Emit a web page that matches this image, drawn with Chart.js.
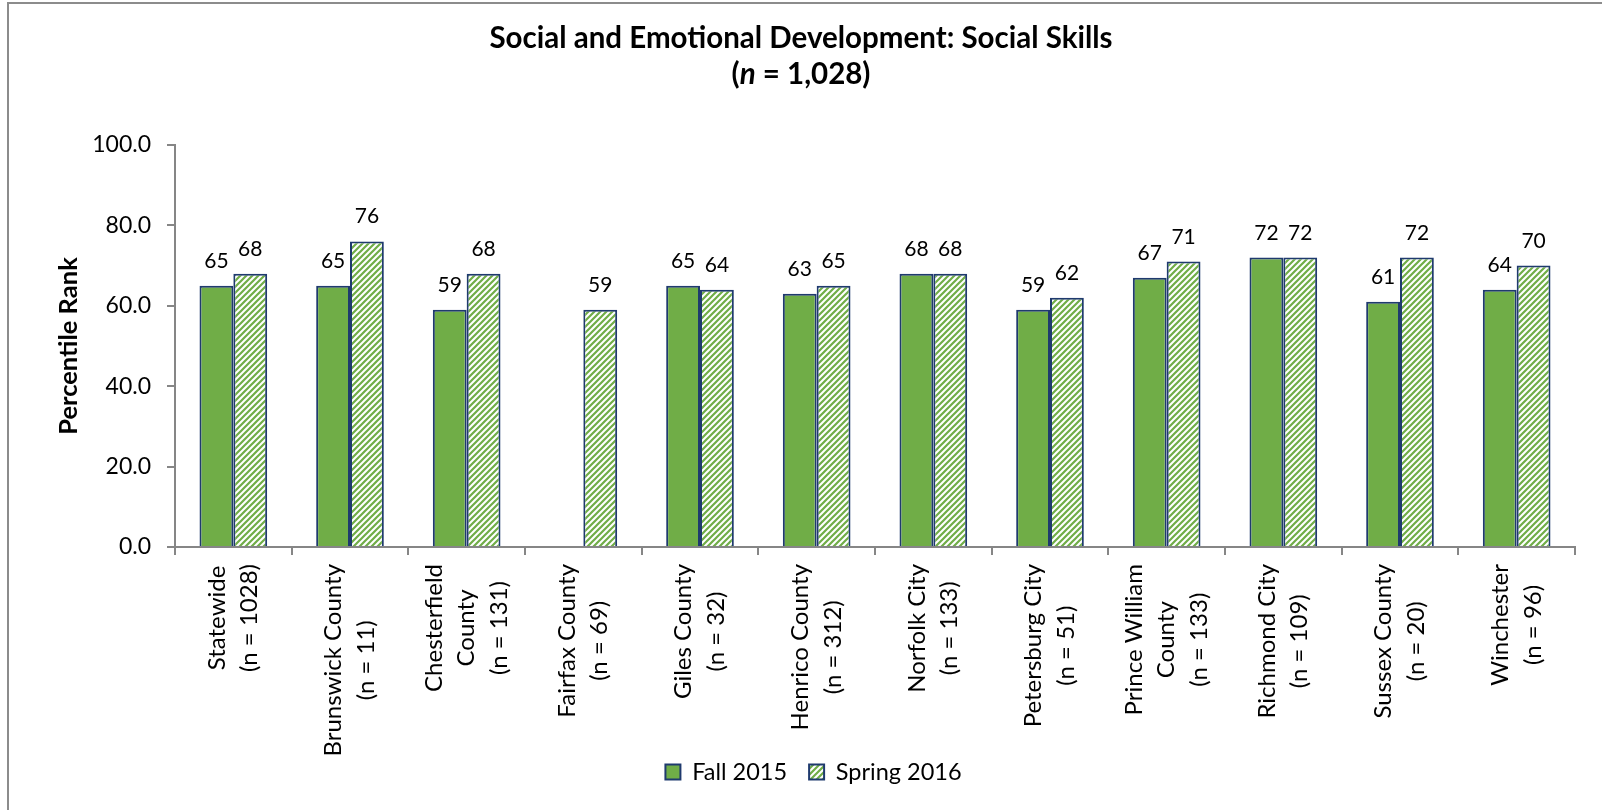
<!DOCTYPE html>
<html>
<head>
<meta charset="utf-8">
<title>Social Skills</title>
<script src="https://cdn.jsdelivr.net/npm/chart.js@4.4.1/dist/chart.umd.min.js"></script>
<style>
    html, body { margin: 0; padding: 0; background: #fff; overflow: hidden; }
    #wrap { position: relative; width: 1602px; height: 810px; overflow: hidden; }
    #frame { position: absolute; left: 7px; top: 2px; width: 1620px; height: 830px;
             border-left: 2px solid #8c8c8c; border-top: 2px solid #8c8c8c; pointer-events: none; }
</style>
</head>
<body>
<div id="wrap">
    <canvas id="bar-chart" width="1602" height="810"></canvas>
    <div id="frame"></div>
</div>
<script>
        var FONT = 'Lato, "Open Sans", sans-serif';

        var categories = [
            ['Statewide', '(n = 1028)'],
            ['Brunswick County', '(n = 11)'],
            ['Chesterfield', 'County', '(n = 131)'],
            ['Fairfax County', '(n = 69)'],
            ['Giles County', '(n = 32)'],
            ['Henrico County', '(n = 312)'],
            ['Norfolk City', '(n = 133)'],
            ['Petersburg City', '(n = 51)'],
            ['Prince William', 'County', '(n = 133)'],
            ['Richmond City', '(n = 109)'],
            ['Sussex County', '(n = 20)'],
            ['Winchester', '(n = 96)']
        ];
        var fall2015 = [65, 65, 59, null, 65, 63, 68, 59, 67, 72, 61, 64];
        var spring2016 = [68, 76, 68, 59, 64, 65, 68, 62, 71, 72, 72, 70];
        var seriesNames = ['Fall 2015', 'Spring 2016'];
        var yMin = 0, yMax = 100, yStep = 20;

        var green = '#70AD47';
        var navy = '#1F3A6E';

        // diagonal green/white hatch for the spring bars
        function makeHatch() {
            var s = 6;
            var c = document.createElement('canvas');
            c.width = s; c.height = s;
            var g = c.getContext('2d');
            g.fillStyle = '#ffffff';
            g.fillRect(0, 0, s, s);
            g.strokeStyle = green;
            g.lineWidth = 2.2;
            g.beginPath();
            g.moveTo(0, s); g.lineTo(s, 0);
            g.moveTo(-s / 2, s / 2); g.lineTo(s / 2, -s / 2);
            g.moveTo(s / 2, s * 1.5); g.lineTo(s * 1.5, s / 2);
            g.stroke();
            return g.createPattern(c, 'repeat');
        }

        var ctx = document.getElementById('bar-chart').getContext('2d');

        // two-line heading, second line has an italic n
        var headingPlugin = {
            id: 'heading',
            afterDraw: function (chart) {
                var c = chart.ctx, cx = chart.width / 2;
                c.save();
                c.fillStyle = '#000';
                c.textBaseline = 'alphabetic';
                c.textAlign = 'center';
                c.font = 'bold 29.5px ' + FONT;
                c.fillText('Social and Emotional Development: Social Skills', cx, 48);

                var parts = [['(', 'bold 29.5px '], ['n', 'italic bold 29.5px '], [' = 1,028)', 'bold 29.5px ']];
                var total = 0;
                parts.forEach(function (p) { c.font = p[1] + FONT; total += c.measureText(p[0]).width; });
                var x = cx - total / 2;
                c.textAlign = 'left';
                parts.forEach(function (p) {
                    c.font = p[1] + FONT;
                    c.fillText(p[0], x, 84);
                    x += c.measureText(p[0]).width;
                });
                c.restore();
            }
        };

        // rotated multi-line category names: the block hangs from the axis,
        // each line centred on the longest one
        var categoryLabels = {
            id: 'categoryLabels',
            afterDraw: function (chart) {
                var xs = chart.scales.x, c = chart.ctx, lh = 32.5;
                c.save();
                c.font = '24px ' + FONT;
                c.fillStyle = '#000';
                c.textAlign = 'center';
                c.textBaseline = 'middle';
                chart.data.labels.forEach(function (lines, i) {
                    var cx = xs.getPixelForTick(i);
                    var longest = Math.max.apply(null, lines.map(function (t) { return c.measureText(t).width; }));
                    var cy = xs.top + 17 + longest / 2;
                    lines.forEach(function (t, k) {
                        c.save();
                        c.translate(cx + (k - (lines.length - 1) / 2) * lh, cy);
                        c.rotate(-Math.PI / 2);
                        c.fillText(t, 0, 0);
                        c.restore();
                    });
                });
                c.restore();
            }
        };

        // value above each bar
        var valueLabels = {
            id: 'valueLabels',
            afterDatasetsDraw: function (chart) {
                var c = chart.ctx;
                c.save();
                c.font = '21px ' + FONT;
                c.fillStyle = '#000';
                c.textAlign = 'center';
                c.textBaseline = 'alphabetic';
                chart.data.datasets.forEach(function (ds, i) {
                    chart.getDatasetMeta(i).data.forEach(function (bar, j) {
                        var v = ds.data[j];
                        if (v === null || v === undefined) return;
                        c.fillText(Math.round(v), bar.x, bar.y - 18);
                    });
                });
                c.restore();
            }
        };

        var config = {
            type: 'bar',
            data: {
                labels: categories,
                datasets: [{
                    label: seriesNames[0],
                    data: fall2015,
                    backgroundColor: green,
                    borderColor: navy,
                    borderWidth: 2
                }, {
                    label: seriesNames[1],
                    data: spring2016,
                    backgroundColor: makeHatch(),
                    borderColor: navy,
                    borderWidth: 2
                }]
            },
            options: {
                responsive: false,
                animation: false,
                layout: {
                    padding: { top: 145, left: 52, right: 27, bottom: 16.25 }
                },
                datasets: {
                    bar: { categoryPercentage: 0.58, barPercentage: 1.0 }
                },
                scales: {
                    x: {
                        afterFit: function (scale) { scale.height = 191.25; },
                        border: { color: '#868686', width: 2 },
                        grid: { drawOnChartArea: false, tickLength: 8, color: '#868686', lineWidth: 2 },
                        ticks: { display: false, autoSkip: false }
                    },
                    y: {
                        min: yMin,
                        max: yMax,
                        afterFit: function (scale) { scale.width = 123; },
                        border: { color: '#868686', width: 2 },
                        grid: { drawOnChartArea: false, tickLength: 8, color: '#868686', lineWidth: 2 },
                        ticks: {
                            stepSize: yStep,
                            padding: 16,
                            color: '#000',
                            font: { family: FONT, size: 23 },
                            callback: function (v) { return v.toFixed(1); }
                        },
                        title: {
                            display: true,
                            text: 'Percentile Rank',
                            color: '#000',
                            padding: { top: 1, bottom: 0 },
                            font: { family: FONT, size: 25.5, weight: 'bold' }
                        }
                    }
                },
                plugins: {
                    legend: {
                        position: 'bottom',
                        labels: {
                            boxWidth: 15,
                            boxHeight: 15,
                            padding: 22,
                            color: '#000',
                            font: { family: FONT, size: 23.5 }
                        }
                    },
                    tooltip: { enabled: false },
                    title: { display: false }
                }
            },
            plugins: [headingPlugin, categoryLabels, valueLabels]
        };
        new Chart(ctx, config);
</script>
</body>
</html>
